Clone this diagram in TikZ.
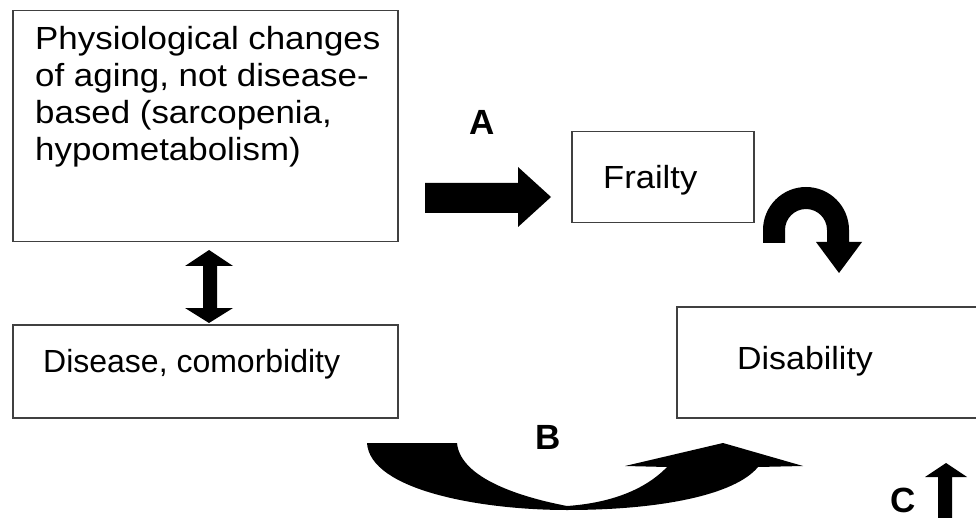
\documentclass[tikz,border=0pt]{standalone}
\usepackage{fontspec}
\setmainfont{Liberation Sans}
\begin{document}
\begin{tikzpicture}[x=1pt,y=-1pt,
  box/.style={draw=black!75, line width=1.5pt, inner sep=0pt, anchor=north west},
  txt/.style={inner sep=0pt, font=\fontsize{32}{37}\selectfont},
  lbl/.style={inner sep=0pt, font=\fontsize{35}{40}\selectfont\bfseries},
  blk/.style={fill=black, draw=none}]
\useasboundingbox (0,0) rectangle (976,518);
\fill[white] (0,0) rectangle (976,518);

% boxes
\node[box, minimum width=385pt, minimum height=231pt] (phys) at (12,10) {};
\node[box, minimum width=182pt, minimum height=91pt] (frail) at (571,131) {};
\node[box, minimum width=385pt, minimum height=93pt] (dis) at (12,324) {};
\node[box, minimum width=305pt, minimum height=111pt] (disab) at (676,306) {};

% texts
\node[txt, anchor=north west, align=left, xscale=1.09] (tphys) at (35,26)
  {Physiological changes\\of aging, not disease-\\based (sarcopenia,\\hypometabolism)};
\node[txt, anchor=base west, xscale=1.08] (tfrail) at (603,189) {Frailty};
\node[txt, anchor=base west] (tdis) at (43,372) {Disease, comorbidity};
\node[txt, anchor=base west, xscale=1.06] (tdisab) at (737,369) {Disability};

% labels
\node[lbl] (la) at (482,122) {A};
\node[lbl] (lb) at (548,437) {B};
\node[lbl] (lc) at (903,500) {C};

% arrow A
\fill[blk] (425,183) -- (518,183) -- (518,167) -- (551,197) -- (518,227) -- (518,213) -- (425,213) -- cycle;

% double arrow
\fill[blk] (209,250) -- (233,266) -- (217,266) -- (217,308) -- (233,308) -- (209,323)
  -- (185,308) -- (203,308) -- (203,266) -- (185,266) -- cycle;

% curved arrow frailty -> disability
\fill[blk] (763,243) -- (763,230) arc[start angle=180, end angle=360, radius=43]
  -- (849,242) -- (862,242) -- (839,273) -- (816,242) -- (827,242) -- (827,230)
  arc[start angle=360, end angle=180, radius=21] -- (785,243) -- cycle;

% arrow B
\fill[blk] (367,443) -- (457,443) .. controls (460,475) and (510,495) .. (567,506)
  .. controls (610,503) and (645,490) .. (667,467) -- (625,466) -- (723,443) -- (803,466)
  -- (758,467) .. controls (735,495) and (660,510) .. (567,510)
  .. controls (480,510) and (370,490) .. (367,443) -- cycle;

% arrow C
\fill[blk] (938,518) -- (938,477) -- (925,477) -- (946,463) -- (967,477) -- (952,477) -- (952,518) -- cycle;
\end{tikzpicture}
\end{document}
